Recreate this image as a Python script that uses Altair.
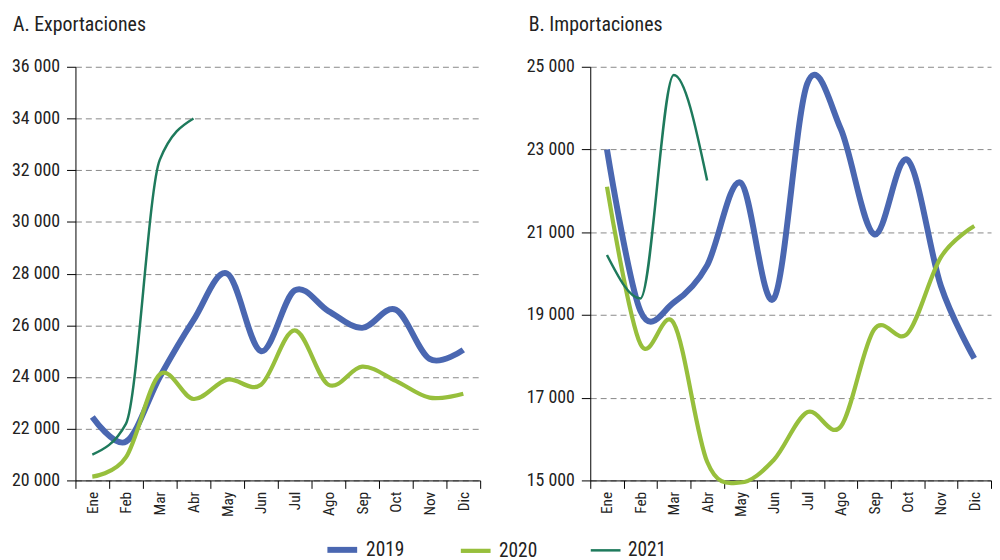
import altair as alt
import pandas as pd

months = ["Ene", "Feb", "Mar", "Abr", "May", "Jun", "Jul", "Ago", "Sep", "Oct", "Nov", "Dic"]
years = ["2019", "2020", "2021"]

exp_2019 = [22450, 21500, 24000, 26200, 28000, 25000, 27350, 26550, 25900, 26600, 24700, 25050]
exp_2020 = [20150, 20900, 24100, 23150, 23900, 23700, 25800, 23700, 24400, 23850, 23200, 23350]
exp_2021 = [21000, 22200, 32400, 34000]

imp_2019 = [23000, 19100, 19300, 20200, 22200, 19400, 24600, 23500, 20950, 22750, 19700, 17950]
imp_2020 = [22100, 18300, 18800, 15450, 14950, 15500, 16650, 16300, 18650, 18550, 20400, 21150]
imp_2021 = [20450, 19400, 24800, 22250]

exp_ticks = [20000, 22000, 24000, 26000, 28000, 30000, 32000, 34000, 36000]
imp_ticks = [15000, 17000, 19000, 21000, 23000, 25000]

panel_titles = ["A. Exportaciones", "B. Importaciones"]

colors = ["#4a67b1", "#97bf3c", "#1e7a5c"]
widths = [6, 2.5, 1.3]

FONT = "Liberation Sans Narrow, Roboto Condensed, DejaVu Sans Condensed, Roboto, sans-serif"


def long_table(series):
    rows = []
    for year, vals in zip(years, series):
        for m, v in zip(months, vals):
            rows.append({"Mes": m, "Año": year, "Valor": v})
    return pd.DataFrame(rows)


exp_df = long_table([exp_2019, exp_2020, exp_2021])
imp_df = long_table([imp_2019, imp_2020, imp_2021])

label_expr = "replace(format(datum.value, ','), ',', ' ')"

legend = alt.Legend(title=None, orient="none", direction="horizontal",
                    legendX=251, legendY=469, symbolType="stroke",
                    symbolSize=900, labelFontSize=19.5, labelFont=FONT,
                    labelColor="#222", columnPadding=48, labelOffset=6, symbolOpacity=1)


def panel(df, title, ticks, width, title_x):
    base = alt.Chart(df).encode(
        x=alt.X("Mes:N", sort=months,
                scale=alt.Scale(domain=months, paddingInner=0, paddingOuter=0),
                axis=alt.Axis(title=None, labelAngle=-90, tickBand="extent", labelFontSize=15.5,
                              labelPadding=3, tickSize=8, domainColor="#000", tickColor="#000",
                              labelColor="#222", labelFont=FONT, grid=False)),
        y=alt.Y("Valor:Q",
                scale=alt.Scale(domain=[ticks[0], ticks[-1]], nice=False, zero=False),
                axis=alt.Axis(title=None, values=ticks, labelExpr=label_expr, labelFontSize=18,
                              labelFont=FONT, labelColor="#222", tickSize=9, tickColor="#000",
                              domainColor="#000", labelPadding=7, grid=True, gridDash=[6, 4],
                              gridColor="#888", gridWidth=1)),
        color=alt.Color("Año:N", scale=alt.Scale(domain=years, range=colors), legend=legend),
        strokeWidth=alt.StrokeWidth("Año:O", scale=alt.Scale(domain=years, range=widths), legend=legend),
        order=alt.Order("Año:N"),
    )
    main = base.transform_filter("datum['Año'] != '2021'").mark_line(
        interpolate="cardinal", tension=0, strokeCap="butt")
    recent = base.transform_filter("datum['Año'] == '2021'").mark_line(
        interpolate="monotone", strokeCap="butt")
    head = alt.Chart(pd.DataFrame({"t": [title]})).mark_text(
        align="left", baseline="alphabetic", fontSize=20, font=FONT, color="#222"
    ).encode(text="t:N", x=alt.value(title_x), y=alt.value(-36))
    return alt.layer(main, recent, head).properties(width=width, height=417)


left = panel(exp_df, panel_titles[0], exp_ticks, 408, -63)
right = panel(imp_df, panel_titles[1], imp_ticks, 404, -62)

chart = alt.hconcat(left, right, spacing=45).configure_view(stroke=None).properties(
    padding={"left": 3, "top": 5, "right": 0, "bottom": 0}
)

chart.save("out.html", embed_options={"renderer": "svg", "actions": False})
